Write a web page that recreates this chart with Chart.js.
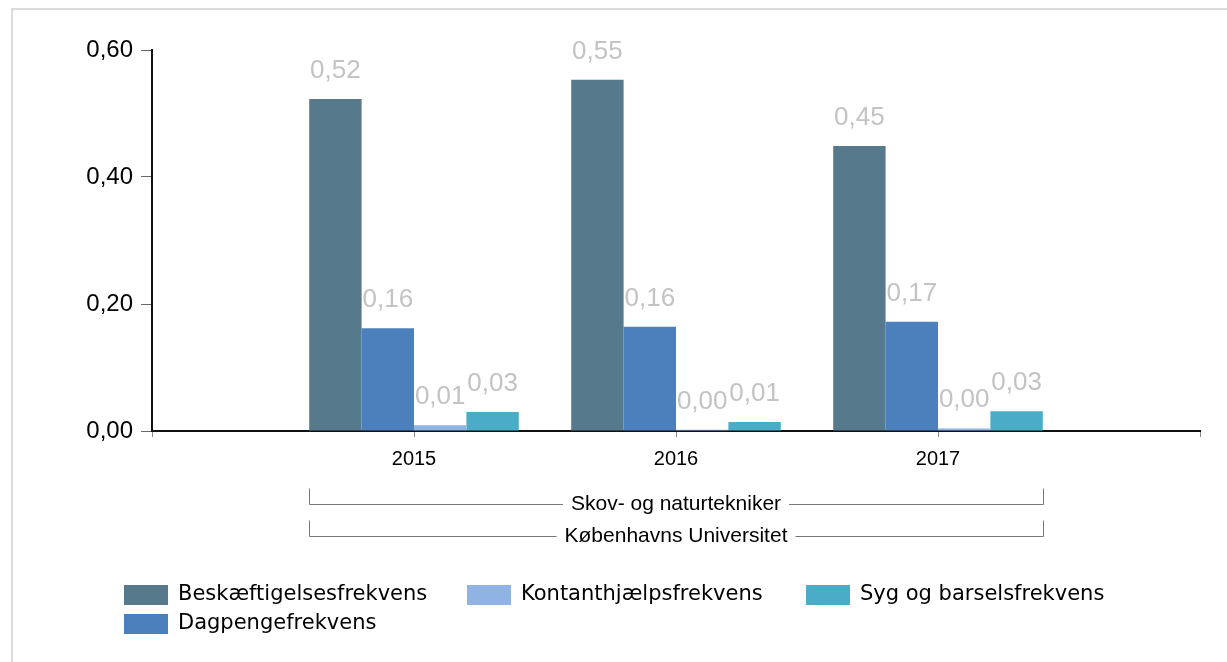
<!DOCTYPE html>
<html>
<head>
<meta charset="utf-8">
<script src="https://cdn.jsdelivr.net/npm/chart.js@4"></script>
<style>
  html, body { margin: 0; padding: 0; background: #fff; }
  #wrap { position: relative; width: 1227px; height: 662px; overflow: hidden; }
  #frame { position: absolute; left: 11px; top: 8px; width: 1300px; height: 700px;
           border-left: 2px solid #dcdcdc; border-top: 2px solid #dcdcdc; }
  canvas { position: absolute; left: 0; top: 0; }
</style>
</head>
<body>
<div id="wrap">
  <div id="frame"></div>
  <canvas id="c" width="1227" height="662"></canvas>
</div>
<script>
// data
const years = ['', '2015', '2016', '2017', ''];
const beskaeftigelse = [null, 0.523, 0.553, 0.449, null];
const dagpenge = [null, 0.162, 0.164, 0.172, null];
const kontanthjaelp = [null, 0.009, 0.002, 0.004, null];
const sygBarsel = [null, 0.030, 0.014, 0.031, null];
const seriesNames = ['Beskæftigelsesfrekvens', 'Dagpengefrekvens', 'Kontanthjælpsfrekvens', 'Syg og barselsfrekvens'];
const seriesColors = ['#56798b', '#4b80bd', '#8fb4e3', '#4aacc6'];
const groupLabels = ['Skov- og naturtekniker', 'Københavns Universitet'];
const yTicks = [0, 0.2, 0.4, 0.6];

const fmt = v => v.toFixed(2).replace('.', ',');

// grey value labels above each bar
const valueLabels = {
  id: 'valueLabels',
  afterDatasetsDraw(chart) {
    const ctx = chart.ctx;
    ctx.save();
    ctx.font = '26px "Liberation Sans", Arial, sans-serif';
    ctx.fillStyle = '#c3c3c3';
    ctx.textAlign = 'center';
    ctx.textBaseline = 'alphabetic';
    chart.data.datasets.forEach((ds, i) => {
      chart.getDatasetMeta(i).data.forEach((bar, j) => {
        const v = ds.data[j];
        if (v == null) return;
        ctx.fillText(fmt(v), bar.x, bar.y - 21);
      });
    });
    ctx.restore();
  }
};

// the two bracket lines under the x axis + the legend in columns
const extras = {
  id: 'extras',
  afterDraw(chart) {
    const ctx = chart.ctx;
    const x = chart.scales.x;
    const step = x.getPixelForValue(2) - x.getPixelForValue(1);
    const left = Math.round(x.getPixelForValue(1) - step * 0.4);
    const right = Math.round(x.getPixelForValue(3) + step * 0.4);
    const mid = (left + right) / 2;
    ctx.save();
    ctx.font = '21px "Liberation Sans", Arial, sans-serif';
    ctx.textAlign = 'center';
    ctx.textBaseline = 'middle';
    ctx.strokeStyle = '#777';
    ctx.lineWidth = 1;
    const rows = [504, 536];
    groupLabels.forEach((txt, i) => {
      const y = rows[i] + 0.5;
      const w = ctx.measureText(txt).width;
      ctx.beginPath();
      ctx.moveTo(left + 0.5, y - 16);
      ctx.lineTo(left + 0.5, y);
      ctx.lineTo(mid - w / 2 - 8, y);
      ctx.moveTo(mid + w / 2 + 8, y);
      ctx.lineTo(right + 0.5, y);
      ctx.lineTo(right + 0.5, y - 16);
      ctx.stroke();
      ctx.fillStyle = '#000';
      ctx.fillText(txt, mid, y);
    });

    // legend, filled column by column like the original
    const cols = [124, 467, 806];
    const legendRows = [585, 614];
    const order = [[0, 0, 0], [1, 0, 1], [2, 1, 0], [3, 2, 0]]; // dataset, col, row
    ctx.font = '21px "DejaVu Sans", Verdana, sans-serif';
    ctx.textAlign = 'left';
    order.forEach(o => {
      const bx = cols[o[1]];
      const by = legendRows[o[2]];
      ctx.fillStyle = seriesColors[o[0]];
      ctx.fillRect(bx, by, 44, 20);
      ctx.fillStyle = '#000';
      ctx.fillText(seriesNames[o[0]], bx + 54, by + 10);
    });
    ctx.restore();
  }
};

const allSeries = [beskaeftigelse, dagpenge, kontanthjaelp, sygBarsel];

new Chart(document.getElementById('c'), {
  type: 'bar',
  data: {
    labels: years,
    datasets: allSeries.map((d, i) => ({
      label: seriesNames[i],
      data: d,
      backgroundColor: seriesColors[i],
      borderWidth: 0,
      categoryPercentage: 0.8,
      barPercentage: 1.0
    }))
  },
  options: {
    responsive: false,
    animation: false,
    layout: { padding: { left: 0, top: 50, right: 27, bottom: 0 } },
    plugins: { legend: { display: false }, tooltip: { enabled: false } },
    scales: {
      x: {
        offset: false,
        afterFit(scale) { scale.height = 231; },
        grid: { display: true, offset: false, drawOnChartArea: false, drawTicks: true, tickLength: 6, color: '#888', lineWidth: 1 },
        border: { display: true, color: '#111', width: 2 },
        ticks: { color: '#000', padding: 10, font: { family: '"Liberation Sans", Arial, sans-serif', size: 20 }, maxRotation: 0, autoSkip: false }
      },
      y: {
        min: 0,
        max: 0.6,
        afterFit(scale) { scale.width = 152; },
        afterBuildTicks(scale) { scale.ticks = yTicks.map(v => ({ value: v })); },
        grid: { display: true, drawOnChartArea: false, drawTicks: true, tickLength: 11, color: '#666', lineWidth: 1 },
        border: { display: true, color: '#111', width: 2 },
        ticks: {
          color: '#000', padding: 8,
          font: { family: '"Liberation Sans", Arial, sans-serif', size: 24 },
          callback: v => fmt(v)
        }
      }
    }
  },
  plugins: [valueLabels, extras]
});
</script>
</body>
</html>
